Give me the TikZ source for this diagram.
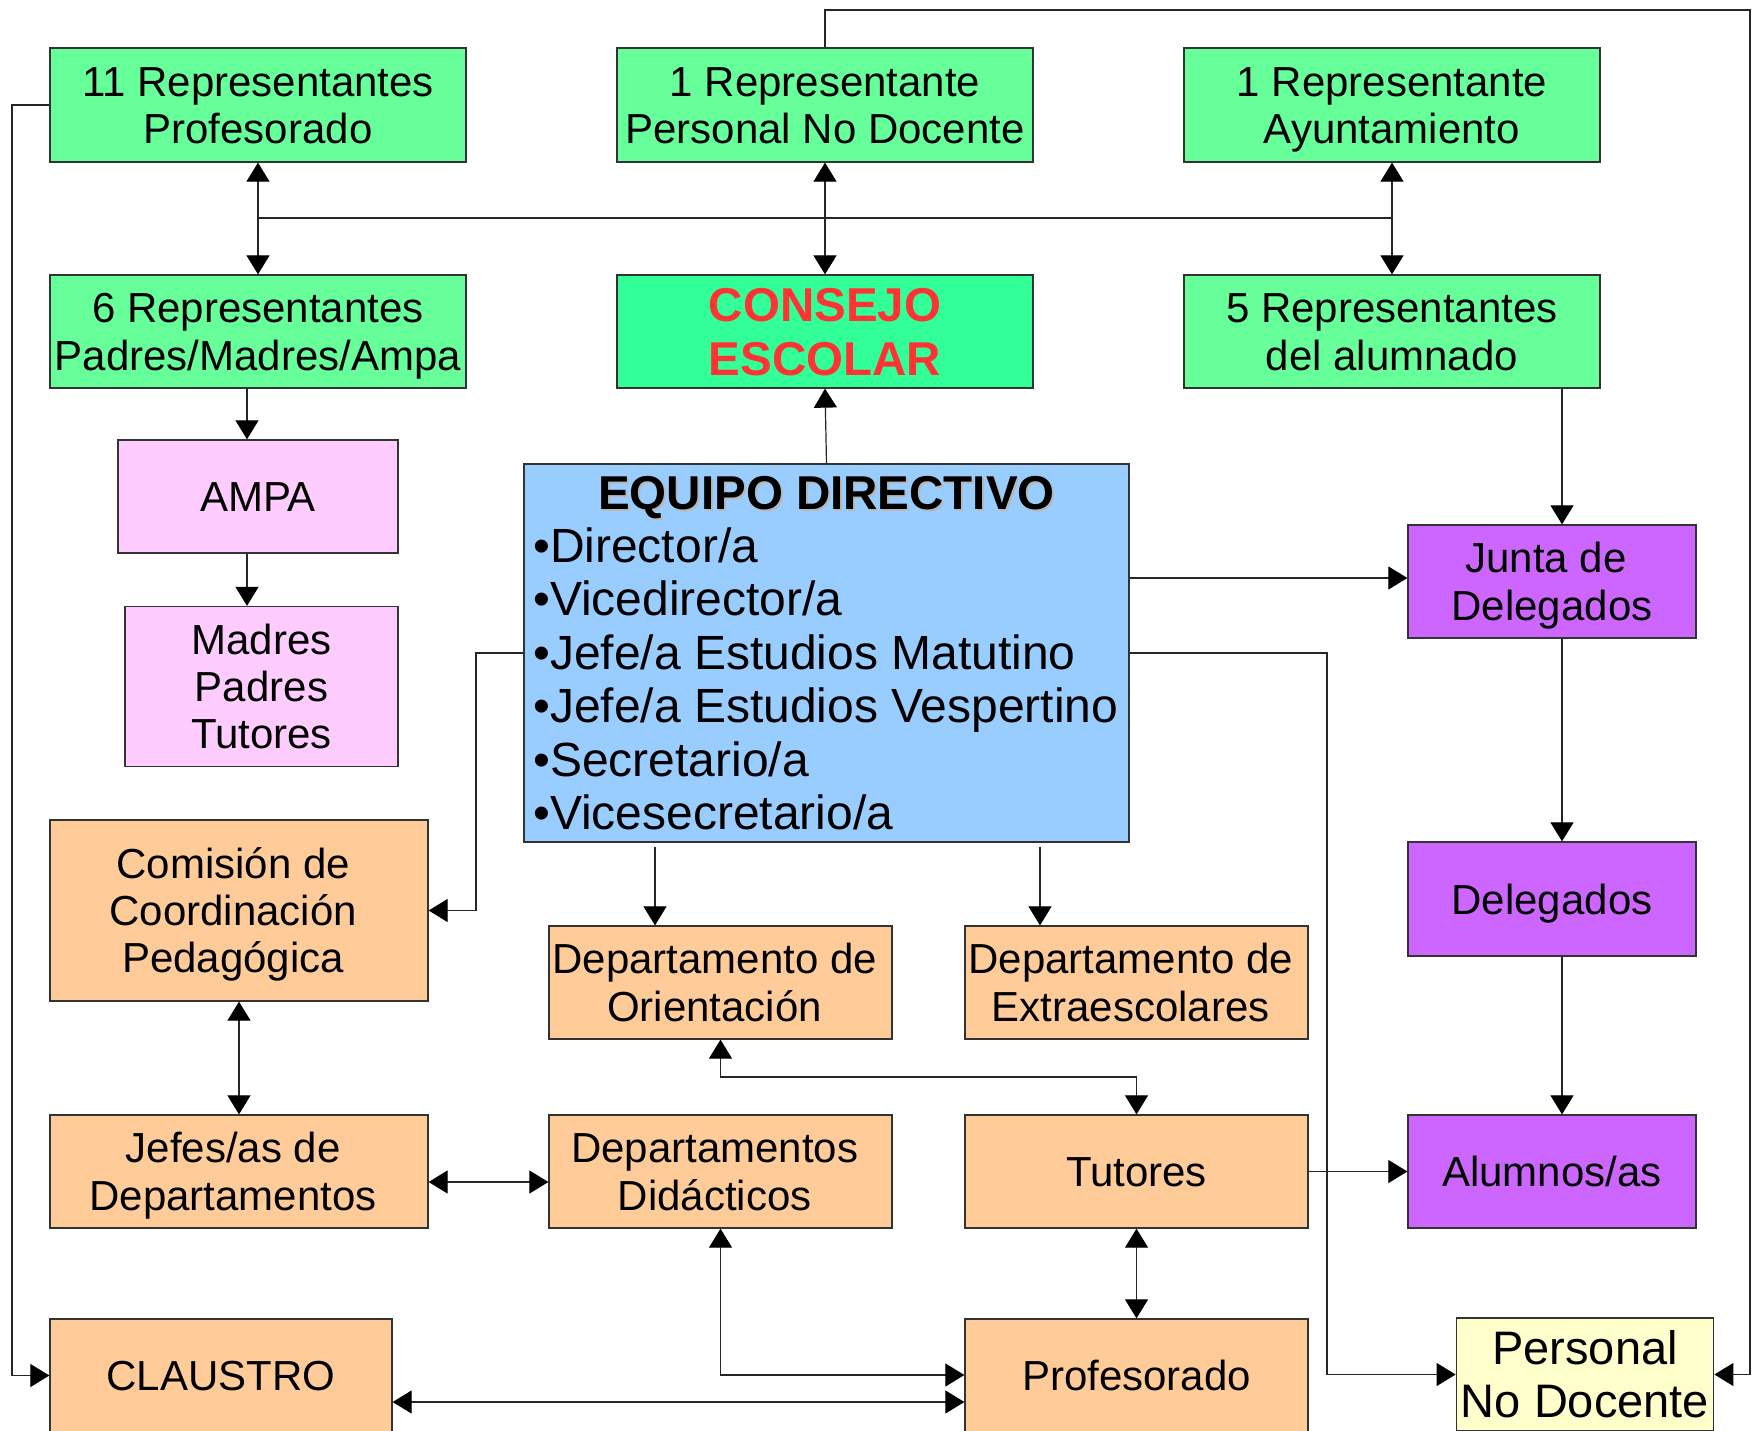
\documentclass[tikz,border=0pt]{standalone}
\usepackage{fontspec}
\setmainfont{Liberation Sans}
\usetikzlibrary{arrows.meta}
\definecolor{cgreen}{HTML}{66FF99}
\definecolor{cconsejo}{HTML}{33FF99}
\definecolor{cred}{HTML}{FF3333}
\definecolor{cpink}{HTML}{FFCCFF}
\definecolor{cblue}{HTML}{99CCFF}
\definecolor{corange}{HTML}{FFCC99}
\definecolor{cpurple}{HTML}{CC66FF}
\definecolor{cyellow}{HTML}{FFFFCC}
\newcommand{\trsp}{\hbox to 11.7pt{}}
\begin{document}
\begin{tikzpicture}[x=1pt,y=-1pt,
  box/.style={draw=black!80, line width=1.3pt, rectangle, inner sep=0pt, align=center,
    font=\fontsize{42}{47.3}\selectfont, text height=30.1pt, text depth=0pt},
  two/.style={text height=77.4pt},
  three/.style={text height=124.7pt},
  wA/.style={minimum width=416pt, minimum height=114pt},
  wB/.style={minimum width=343pt, minimum height=113pt},
  wC/.style={minimum width=288pt, minimum height=113pt},
  item/.style={anchor=base west, inner sep=0pt, font=\fontsize{48}{53.4}\selectfont},
  conn/.style={draw=black!85, line width=1.2pt},
  tip/.tip={Triangle[length=19pt,width=23pt,fill=black,color=black]},
  arr/.style={conn, -tip},
  darr/.style={conn, tip-tip},
]
\clip (0,0) rectangle (1753,1431);
\fill[white] (0,0) rectangle (1753,1431);

% top rows
\node[box,two,wA,fill=cgreen] (rprof) at (258,105) {11 Representantes\\Profesorado};
\node[box,two,wA,fill=cgreen] (rpnd) at (825,105) {1 Representante\\Personal No Docente};
\node[box,two,wA,fill=cgreen] (rayto) at (1392,105) {1 Representante\\Ayuntamiento};
\node[box,two,wA,minimum height=113pt,fill=cgreen] (rpadres) at (258,331.5) {6 Representantes\\Padres/Madres/Ampa};
\node[box,wA,minimum height=113pt,fill=cconsejo,text=cred,
  font=\fontsize{47.5}{54}\selectfont\bfseries, text height=88pt] (consejo) at (825,331.5) {CONSEJO\\ESCOLAR};
\node[box,two,wA,minimum height=113pt,fill=cgreen] (ralum) at (1392,331.5) {5 Representantes\\del alumnado};

% left column
\node[box,minimum width=280pt,minimum height=113pt,fill=cpink] (ampa) at (258,496.5) {AMPA};
\node[box,three,minimum width=273pt,minimum height=160pt,fill=cpink] (mpt) at (261.5,686.5) {Madres\\Padres\\Tutores};
\node[box,three,minimum width=378pt,minimum height=181pt,fill=corange] (comision) at (239,910.5) {Comisión de\trsp\\Coordinación\trsp\\Pedagógica\trsp};
\node[box,two,minimum width=378pt,minimum height=113pt,fill=corange] (jefes) at (239,1171.5) {Jefes/as de\trsp\\Departamentos\trsp};
\node[box,minimum width=342pt,minimum height=113pt,fill=corange] (claustro) at (221,1375.5) {CLAUSTRO};

% equipo directivo
\node[box,minimum width=605pt,minimum height=378pt,fill=cblue] (equipo) at (826.5,653) {};
\node[anchor=base, inner sep=0pt, font=\fontsize{47.5}{53.4}\selectfont\bfseries, text=black!28] (eqshadow) at (828.5,511) {EQUIPO DIRECTIVO};
\node[anchor=base, inner sep=0pt, font=\fontsize{47.5}{53.4}\selectfont\bfseries] (eqtitle) at (826.5,509) {EQUIPO DIRECTIVO};
\node[item] (eq1) at (533,562.5) {•Director/a};
\node[item] (eq2) at (533,615.9) {•Vicedirector/a};
\node[item] (eq3) at (533,669.3) {•Jefe/a Estudios Matutino};
\node[item] (eq4) at (533,722.7) {•Jefe/a Estudios Vespertino};
\node[item] (eq5) at (533,776.1) {•Secretario/a};
\node[item] (eq6) at (533,829.5) {•Vicesecretario/a};

% middle
\node[box,two,wB,fill=corange] (dorient) at (720.5,982.5) {Departamento de\trsp\\Orientación\trsp};
\node[box,two,wB,fill=corange] (dextra) at (1136.5,982.5) {Departamento de\trsp\\Extraescolares\trsp};
\node[box,two,wB,fill=corange] (ddid) at (720.5,1171.5) {Departamentos\trsp\\Didácticos\trsp};
\node[box,wB,fill=corange] (tutores) at (1136.5,1171.5) {Tutores};
\node[box,wB,fill=corange] (profesorado) at (1136.5,1375.5) {Profesorado};

% right column
\node[box,two,wC,fill=cpurple] (junta) at (1552,581.5) {Junta de\trsp\\Delegados};
\node[box,wC,minimum height=114pt,fill=cpurple] (delegados) at (1552,899) {Delegados};
\node[box,wC,fill=cpurple] (alumnos) at (1552,1171.5) {Alumnos/as};
\node[box,minimum width=257.5pt,minimum height=113pt,fill=cyellow,
  font=\fontsize{47}{53}\selectfont, text height=86.7pt] (pnd) at (1585,1374.5) {Personal\\No Docente};

% helper coordinates
\coordinate (yh) at (0,218);
\coordinate (ytop) at (0,10);
\coordinate (xright) at (1750,0);
\coordinate (xleft) at (12,0);
\coordinate (xampa) at (247,0);
\coordinate (xjd) at (1562,0);
\coordinate (yjunta) at (0,578);
\coordinate (xpnd) at (1327,0);
\coordinate (xcom) at (476,0);
\coordinate (xdo) at (655,0);
\coordinate (xde) at (1040,0);
\coordinate (ymid) at (0,1077);
\coordinate (yjd) at (0,1182);
\coordinate (ycl) at (0,1402);
\coordinate (yprof) at (0,1375);

% connectors
\draw[conn] (rprof.south |- yh) -- (rayto.south |- yh);
\draw[darr] (rprof.south) -- (rpadres.north);
\draw[darr] (rpnd.south) -- (consejo.north);
\draw[darr] (rayto.south) -- (ralum.north);
\draw[arr] (rpnd.north) -- (rpnd.north |- ytop) -- (xright |- ytop) -- (xright |- pnd.east) -- (pnd.east);
\draw[arr] (rprof.west) -- (xleft |- rprof.west) -- (xleft |- claustro.west) -- (claustro.west);
\draw[arr] (rpadres.south -| xampa) -- (ampa.north -| xampa);
\draw[arr] (ampa.south -| xampa) -- (mpt.north -| xampa);
\draw[arr] (equipo.north) -- (consejo.south);
\draw[arr] (ralum.south -| xjd) -- (junta.north -| xjd);
\draw[arr] (equipo.east |- yjunta) -- (junta.west |- yjunta);
\draw[arr] (equipo.east) -- (xpnd |- equipo.east) -- (xpnd |- pnd.west) -- (pnd.west);
\draw[arr] (equipo.west) -- (xcom |- equipo.west) -- (xcom |- comision.east) -- (comision.east);
\draw[arr, shorten <=4pt] (equipo.south -| xdo) -- (dorient.north -| xdo);
\draw[arr, shorten <=4pt] (equipo.south -| xde) -- (dextra.north -| xde);
\draw[arr] (junta.south -| xjd) -- (delegados.north -| xjd);
\draw[arr] (delegados.south -| xjd) -- (alumnos.north -| xjd);
\draw[darr] (comision.south) -- (jefes.north);
\draw[darr] (jefes.east |- yjd) -- (ddid.west |- yjd);
\draw[darr] (dorient.south) -- (dorient.south |- ymid) -- (tutores.north |- ymid) -- (tutores.north);
\draw[arr] (tutores.east) -- (alumnos.west);
\draw[darr] (tutores.south) -- (profesorado.north);
\draw[darr] (ddid.south) -- (ddid.south |- yprof) -- (profesorado.west |- yprof);
\draw[darr] (claustro.east |- ycl) -- (profesorado.west |- ycl);
\end{tikzpicture}
\end{document}
